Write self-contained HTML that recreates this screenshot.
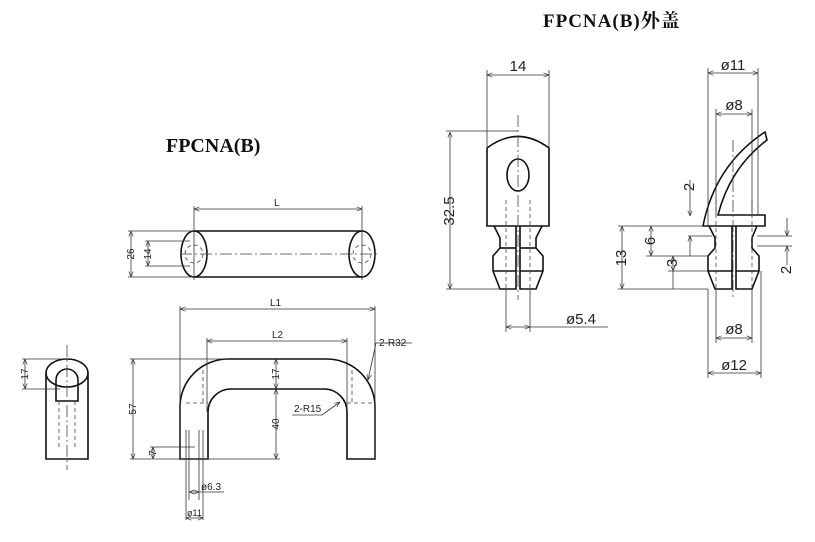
<!DOCTYPE html>
<html><head><meta charset="utf-8"><style>
html,body{margin:0;padding:0;background:#fff;}
svg{display:block;}
.t{font-family:"Liberation Serif","Noto Serif CJK SC",serif;font-weight:bold;fill:#111;}
.d{font-family:"Liberation Sans",sans-serif;fill:#222;}
</style></head><body>
<svg width="815" height="542" viewBox="0 0 815 542" xmlns="http://www.w3.org/2000/svg">
<defs>
<marker id="a" viewBox="0 0 10 10" refX="10" refY="5" markerWidth="7" markerHeight="7" orient="auto-start-reverse"><path d="M0,1 L10,5 L0,9" fill="none" stroke="#333" stroke-width="1.2"/></marker>
</defs>
<text class="t" x="543" y="27" font-size="19" letter-spacing="1">FPCNA(B)外盖</text>
<text class="t" x="166" y="152" font-size="20">FPCNA(B)</text>

<g fill="none" stroke="#111" stroke-width="1.6">
<line x1="194" y1="231" x2="362" y2="231"/><line x1="194" y1="277" x2="362" y2="277"/>
<ellipse cx="194" cy="254" rx="13" ry="23"/><ellipse cx="362" cy="254" rx="13" ry="23"/>
<path d="M180,459 L180,408 A48,48 0 0 1 228,359 L327,359 A48,48 0 0 1 375,408 L375,459 L347,459 L347,412 A23,23 0 0 0 324,389 L231,389 A23,23 0 0 0 208,412 L208,459 Z"/>
<path d="M46,373 L46,459 L88,459 L88,373"/>
<ellipse cx="67" cy="373" rx="21" ry="14"/>
<path d="M56,401 L56,380 A11,11 0 0 1 78,380 L78,401 Z"/>
<path d="M487,226 L487,148 Q518,125 549,148 L549,226 Z"/>
<ellipse cx="518" cy="175" rx="11" ry="16"/>
<path d="M494,226 L500,238 L500,248 L493,256 L493,271 L500,289 L516,289 L516,226 M542,226 L536,238 L536,248 L543,256 L543,271 L536,289 L520,289 L520,226"/>
<line x1="493" y1="271" x2="516" y2="271"/><line x1="520" y1="271" x2="543" y2="271"/>
<line x1="500" y1="248" x2="516" y2="248"/><line x1="520" y1="248" x2="536" y2="248"/>
<path d="M703,226 Q715,165 765,132 L767,140 Q730,168 718,215 L765,215 L765,226 Z"/>
<path d="M709,226 L715,238 L715,248 L708,256 L708,271 L715,289 L732,289 L732,226 M757,226 L752,238 L752,248 L759,256 L759,271 L752,289 L736,289 L736,226"/>
<line x1="708" y1="271" x2="732" y2="271"/><line x1="736" y1="271" x2="759" y2="271"/>
</g>

<g fill="none" stroke="#444" stroke-width="0.8" stroke-dasharray="4,3">
<circle cx="194" cy="254" r="9"/><circle cx="362" cy="254" r="9"/>
<line x1="186" y1="403" x2="208" y2="403"/><line x1="347" y1="403" x2="375" y2="403"/>
<line x1="203" y1="370" x2="203" y2="403"/><line x1="352" y1="370" x2="352" y2="403"/>
<line x1="59" y1="401" x2="59" y2="448"/><line x1="75" y1="401" x2="75" y2="448"/>
<line x1="506" y1="200" x2="506" y2="289"/><line x1="530" y1="200" x2="530" y2="289"/>
<line x1="716" y1="200" x2="716" y2="289"/><line x1="752" y1="200" x2="752" y2="289"/>
</g>
<g fill="none" stroke="#444" stroke-width="0.8" stroke-dasharray="12,3,2,3">
<line x1="180" y1="254" x2="380" y2="254"/>
<line x1="67" y1="345" x2="67" y2="470"/>
<line x1="518" y1="115" x2="518" y2="300"/>
<line x1="733" y1="140" x2="733" y2="300"/>
</g>

<g stroke="#333" stroke-width="0.8" fill="none">
<line x1="194" y1="209" x2="362" y2="209" marker-start="url(#a)" marker-end="url(#a)"/>
<line x1="194" y1="206" x2="194" y2="280"/><line x1="362" y1="206" x2="362" y2="280"/>
<line x1="131" y1="231" x2="131" y2="277" marker-start="url(#a)" marker-end="url(#a)"/>
<line x1="128" y1="231" x2="194" y2="231"/><line x1="128" y1="277" x2="194" y2="277"/>
<line x1="148" y1="241" x2="148" y2="266" marker-start="url(#a)" marker-end="url(#a)"/>
<line x1="145" y1="241" x2="190" y2="241"/><line x1="145" y1="266" x2="190" y2="266"/>
<line x1="180" y1="309" x2="375" y2="309" marker-start="url(#a)" marker-end="url(#a)"/>
<line x1="180" y1="306" x2="180" y2="459"/><line x1="375" y1="306" x2="375" y2="459"/>
<line x1="207" y1="341" x2="347" y2="341" marker-start="url(#a)" marker-end="url(#a)"/>
<line x1="207" y1="338" x2="207" y2="412"/><line x1="347" y1="338" x2="347" y2="412"/>
<line x1="133" y1="359" x2="133" y2="459" marker-start="url(#a)" marker-end="url(#a)"/>
<line x1="130" y1="359" x2="228" y2="359"/><line x1="130" y1="459" x2="280" y2="459"/>
<line x1="276" y1="359" x2="276" y2="389" marker-start="url(#a)" marker-end="url(#a)"/>
<line x1="276" y1="389" x2="276" y2="459" marker-start="url(#a)" marker-end="url(#a)"/>
<line x1="153" y1="447" x2="153" y2="459" marker-start="url(#a)" marker-end="url(#a)"/>
<line x1="150" y1="447" x2="195" y2="447"/>
<line x1="186" y1="430" x2="186" y2="520"/><line x1="189" y1="430" x2="189" y2="500"/>
<line x1="199" y1="430" x2="199" y2="500"/><line x1="203" y1="430" x2="203" y2="520"/>
<line x1="189" y1="492" x2="199" y2="492" marker-start="url(#a)" marker-end="url(#a)"/>
<line x1="199" y1="492" x2="224" y2="492"/>
<line x1="186" y1="518" x2="203" y2="518" marker-start="url(#a)" marker-end="url(#a)"/>
<line x1="376" y1="343" x2="412" y2="343"/><line x1="376" y1="343" x2="368" y2="380" marker-end="url(#a)"/>
<line x1="292" y1="415" x2="322" y2="415"/><line x1="322" y1="415" x2="340" y2="402" marker-end="url(#a)"/>
<line x1="25" y1="359" x2="25" y2="389" marker-start="url(#a)" marker-end="url(#a)"/>
<line x1="22" y1="359" x2="67" y2="359"/><line x1="22" y1="389" x2="60" y2="389"/>
<line x1="487" y1="75" x2="549" y2="75" marker-start="url(#a)" marker-end="url(#a)"/>
<line x1="487" y1="70" x2="487" y2="148"/><line x1="549" y1="70" x2="549" y2="148"/>
<line x1="450" y1="132" x2="450" y2="289" marker-start="url(#a)" marker-end="url(#a)"/>
<line x1="446" y1="131" x2="518" y2="131"/><line x1="446" y1="289" x2="500" y2="289"/>
<line x1="506" y1="289" x2="506" y2="332"/><line x1="530" y1="289" x2="530" y2="332"/>
<line x1="506" y1="327" x2="530" y2="327" marker-start="url(#a)" marker-end="url(#a)"/>
<line x1="530" y1="327" x2="608" y2="327"/>
<line x1="708" y1="73" x2="758" y2="73" marker-start="url(#a)" marker-end="url(#a)"/>
<line x1="708" y1="68" x2="708" y2="226"/><line x1="758" y1="68" x2="758" y2="215"/>
<line x1="716" y1="114" x2="752" y2="114" marker-start="url(#a)" marker-end="url(#a)"/>
<line x1="716" y1="109" x2="716" y2="215"/><line x1="752" y1="109" x2="752" y2="215"/>
<line x1="716" y1="289" x2="716" y2="343"/><line x1="752" y1="289" x2="752" y2="343"/>
<line x1="716" y1="338" x2="752" y2="338" marker-start="url(#a)" marker-end="url(#a)"/>
<line x1="708" y1="289" x2="708" y2="378"/><line x1="761" y1="271" x2="761" y2="378"/>
<line x1="708" y1="373" x2="761" y2="373" marker-start="url(#a)" marker-end="url(#a)"/>
<line x1="618" y1="226" x2="703" y2="226"/><line x1="618" y1="289" x2="708" y2="289"/>
<line x1="622" y1="226" x2="622" y2="289" marker-start="url(#a)" marker-end="url(#a)"/>
<line x1="651" y1="226" x2="651" y2="256" marker-start="url(#a)" marker-end="url(#a)"/>
<line x1="646" y1="256" x2="708" y2="256"/><line x1="668" y1="271" x2="708" y2="271"/>
<line x1="673" y1="256" x2="673" y2="271" marker-start="url(#a)" marker-end="url(#a)"/>
<line x1="673" y1="271" x2="673" y2="289"/>
<line x1="690" y1="180" x2="690" y2="216" marker-end="url(#a)"/>
<line x1="690" y1="256" x2="690" y2="236" marker-end="url(#a)"/>
<line x1="688" y1="236" x2="712" y2="236"/>
<line x1="787" y1="218" x2="787" y2="236" marker-end="url(#a)"/>
<line x1="787" y1="265" x2="787" y2="246" marker-end="url(#a)"/>
<line x1="757" y1="236" x2="792" y2="236"/><line x1="757" y1="246" x2="792" y2="246"/>
</g>

<g class="d">
<text x="274" y="206" font-size="10">L</text>
<text x="130" y="258" font-size="10" transform="rotate(-90 130 254)" text-anchor="middle">26</text>
<text x="147" y="258" font-size="10" transform="rotate(-90 147 254)" text-anchor="middle">14</text>
<text x="270" y="306" font-size="10">L1</text>
<text x="272" y="338" font-size="10">L2</text>
<text x="379" y="346" font-size="10">2-R32</text>
<text x="294" y="412" font-size="10">2-R15</text>
<text x="132" y="413" font-size="10" transform="rotate(-90 132 409)" text-anchor="middle">57</text>
<text x="275" y="378" font-size="10" transform="rotate(-90 275 374)" text-anchor="middle">17</text>
<text x="275" y="428" font-size="10" transform="rotate(-90 275 424)" text-anchor="middle">40</text>
<text x="152" y="457" font-size="10" transform="rotate(-90 152 453)" text-anchor="middle">7</text>
<text x="24" y="378" font-size="10" transform="rotate(-90 24 374)" text-anchor="middle">17</text>
<text x="201" y="490" font-size="10">ø6.3</text>
<text x="187" y="516" font-size="9">ø11</text>
<text x="518" y="71" font-size="15" text-anchor="middle">14</text>
<text x="449" y="216" font-size="15" transform="rotate(-90 449 211)" text-anchor="middle">32.5</text>
<text x="566" y="324" font-size="15">ø5.4</text>
<text x="733" y="70" font-size="15" text-anchor="middle">ø11</text>
<text x="734" y="110" font-size="15" text-anchor="middle">ø8</text>
<text x="734" y="334" font-size="15" text-anchor="middle">ø8</text>
<text x="734" y="370" font-size="15" text-anchor="middle">ø12</text>
<text x="621" y="263" font-size="15" transform="rotate(-90 621 258)" text-anchor="middle">13</text>
<text x="650" y="246" font-size="15" transform="rotate(-90 650 241)" text-anchor="middle">6</text>
<text x="672" y="268" font-size="15" transform="rotate(-90 672 263)" text-anchor="middle">3</text>
<text x="689" y="192" font-size="15" transform="rotate(-90 689 187)" text-anchor="middle">2</text>
<text x="786" y="275" font-size="15" transform="rotate(-90 786 270)" text-anchor="middle">2</text>
</g>
</svg>
</body></html>
